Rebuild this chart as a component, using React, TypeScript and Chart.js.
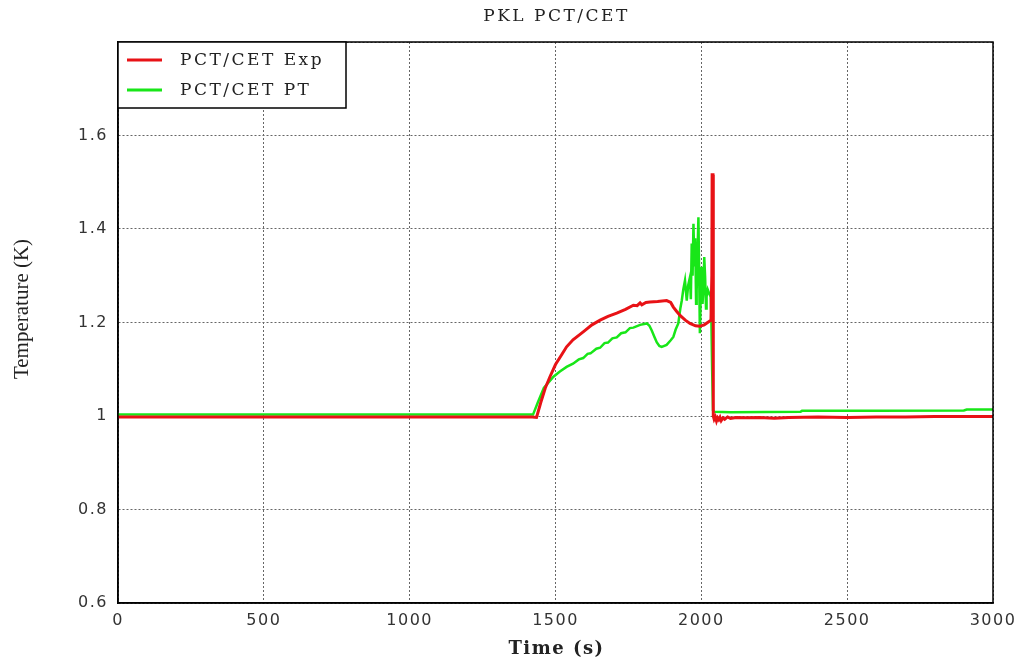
import React, { useEffect, useRef } from "react";
import { Chart, registerables } from "chart.js";

Chart.register(...registerables);

const chartTitle = "PKL PCT/CET";
const xTitle = "Time (s)";
const yTitle = "Temperature (K)";
const seriesNames = ["PCT/CET Exp", "PCT/CET PT"];
const seriesColors = ["rgb(232,18,22)", "rgb(24,230,24)"];

const expTime = [
  0, 100, 250, 400, 480, 520, 650, 800, 1000, 1150, 1300, 1420, 1435, 1450, 1465, 1481, 1500, 1520, 1538,
  1560, 1595, 1625, 1653, 1680, 1710, 1740, 1767, 1780, 1790, 1796, 1810, 1824, 1850, 1881, 1895, 1904, 1915, 1927,
  1945, 1961, 1980, 1995, 2010, 2024, 2033, 2036, 2037, 2040, 2041, 2044, 2048, 2052, 2056, 2060, 2064,
  2068, 2074, 2080, 2090, 2100, 2120, 2150, 2200, 2250, 2300, 2400, 2500, 2600, 2700, 2800, 2900, 3000,
];
const expTemp = [
  0.998, 0.998, 0.998, 0.998, 0.998, 0.998, 0.998, 0.998, 0.998, 0.998, 0.998, 0.998, 0.997, 1.03, 1.06,
  1.084, 1.11, 1.13, 1.148, 1.163, 1.18, 1.195, 1.205, 1.213, 1.22, 1.228, 1.237, 1.236, 1.242, 1.238, 1.243, 1.244,
  1.245, 1.247, 1.243, 1.233, 1.224, 1.215, 1.205, 1.198, 1.193, 1.192, 1.195, 1.201, 1.205, 1.3, 1.516,
  1.516, 1.0, 0.993, 0.998, 0.989, 0.996, 0.992, 0.997, 0.99, 0.996, 0.993, 0.998, 0.995, 0.997, 0.996,
  0.997, 0.995, 0.997, 0.998, 0.997, 0.998, 0.998, 0.999, 0.999, 0.999,
];

const ptTime = [
  0, 500, 1000, 1423, 1440, 1460, 1493, 1515, 1538, 1560, 1580, 1595, 1610, 1620, 1640, 1653, 1668, 1680,
  1695, 1710, 1725, 1740, 1755, 1767, 1790, 1813, 1822, 1830, 1840, 1847, 1856, 1864, 1881, 1895, 1904,
  1912, 1921, 1928, 1933, 1938, 1944, 1950, 1955, 1961, 1964, 1967, 1970, 1973, 1976, 1979, 1982, 1984,
  1987, 1990, 1993, 1995, 1998, 2001, 2004, 2007, 2010, 2013, 2016, 2018, 2022, 2027, 2032, 2034, 2037,
  2040, 2045, 2100, 2340, 2345, 2600, 2900, 2910, 3000,
];
const ptTemp = [
  1.003, 1.003, 1.003, 1.003, 1.03, 1.06, 1.084, 1.095, 1.105, 1.112, 1.121, 1.124, 1.133, 1.134, 1.144,
  1.146, 1.156, 1.157, 1.166, 1.168, 1.177, 1.179, 1.188, 1.189, 1.195, 1.198, 1.193, 1.183, 1.168, 1.158,
  1.15, 1.148, 1.152, 1.162, 1.169, 1.185, 1.198, 1.23, 1.247, 1.27, 1.29, 1.247, 1.28, 1.297, 1.25, 1.369,
  1.3, 1.411, 1.32, 1.38, 1.24, 1.269, 1.35, 1.425, 1.28, 1.177, 1.26, 1.319, 1.24, 1.269, 1.34, 1.297,
  1.23, 1.255, 1.27, 1.262, 1.255, 1.22, 1.1, 1.012, 1.009, 1.008, 1.009, 1.011, 1.011, 1.012, 1.014, 1.014,
];

const xTicks = { min: 0, max: 3000, step: 500 };
const yTicks = { min: 0.6, max: 1.8, step: 0.2 };

const toPoints = (xs: number[], ys: number[]) => xs.map((x, i) => ({ x, y: ys[i] }));

const decorPlugin = {
  id: "decor",
  beforeDraw(chart: any) {
    chart.ctx.letterSpacing = "1.5px";
  },
  afterDatasetsDraw(chart: any) {
    const { ctx, chartArea: a } = chart;
    ctx.save();
    ctx.letterSpacing = "0px";
    ctx.strokeStyle = "#000";
    ctx.lineWidth = 1.5;
    ctx.strokeRect(a.left, a.top, a.right - a.left, a.bottom - a.top);
    const lw = 228, lh = 66;
    ctx.fillStyle = "#fff";
    ctx.fillRect(a.left, a.top, lw, lh);
    ctx.strokeRect(a.left, a.top, lw, lh);
    ctx.font = '17px "DejaVu Serif"';
    ctx.letterSpacing = "2.5px";
    ctx.textBaseline = "middle";
    ctx.textAlign = "left";
    seriesNames.forEach((name, i) => {
      const yy = a.top + 18 + i * 30;
      ctx.strokeStyle = seriesColors[i];
      ctx.lineWidth = 3;
      ctx.beginPath();
      ctx.moveTo(a.left + 9, yy);
      ctx.lineTo(a.left + 44, yy);
      ctx.stroke();
      ctx.fillStyle = "#222";
      ctx.fillText(name, a.left + 62, yy + 1);
    });
    ctx.restore();
  },
  afterDraw(chart: any) {
    const { ctx, chartArea: a } = chart;
    ctx.save();
    ctx.fillStyle = "#222";
    ctx.textAlign = "center";
    ctx.textBaseline = "middle";
    ctx.font = '17px "DejaVu Serif"';
    ctx.letterSpacing = "2.5px";
    ctx.fillText(chartTitle, (a.left + a.right) / 2 + 1, 17);
    ctx.font = 'bold 18px "DejaVu Serif"';
    ctx.letterSpacing = "1.5px";
    ctx.fillText(xTitle, (a.left + a.right) / 2 + 1, 649);
    ctx.letterSpacing = "0px";
    ctx.translate(22, 309);
    ctx.rotate(-Math.PI / 2);
    ctx.font = '21px "Liberation Serif"';
    ctx.fillText(yTitle, 0, 0);
    ctx.restore();
    chart.ctx.letterSpacing = "0px";
  },
};

export default function App() {
  const ref = useRef<HTMLCanvasElement>(null);
  useEffect(() => {
    document.body.style.margin = "0";
    const chart = new Chart(ref.current!, {
      type: "line",
      data: {
        datasets: [
          {
            label: seriesNames[0],
            data: toPoints(expTime, expTemp),
            borderColor: seriesColors[0],
            borderWidth: 3,
            pointRadius: 0,
            tension: 0,
          },
          {
            label: seriesNames[1],
            data: toPoints(ptTime, ptTemp),
            borderColor: seriesColors[1],
            borderWidth: 2.5,
            pointRadius: 0,
            tension: 0,
          },
        ],
      },
      options: {
        responsive: false,
        animation: false,
        layout: { padding: { top: 42, right: 31, left: 0, bottom: 0 } },
        plugins: { legend: { display: false }, title: { display: false }, tooltip: { enabled: false } },
        scales: {
          x: {
            type: "linear",
            min: xTicks.min,
            max: xTicks.max,
            afterFit: (s: any) => {
              s.height = 61;
            },
            ticks: {
              stepSize: xTicks.step,
              padding: 8,
              color: "#333",
              font: { family: "DejaVu Sans", size: 16 },
              maxRotation: 0,
              callback: (v: any) => String(v),
            },
            grid: { color: "#666", lineWidth: 1, drawTicks: false },
            border: { color: "#000", width: 1.5, dash: [2, 2] },
          },
          y: {
            type: "linear",
            min: yTicks.min,
            max: yTicks.max,
            afterFit: (s: any) => {
              s.width = 118;
            },
            ticks: {
              stepSize: yTicks.step,
              padding: 10,
              color: "#333",
              font: { family: "DejaVu Sans", size: 16 },
              callback: (v: any) => (Math.abs(v - yTicks.max) < 1e-6 ? "" : String(+Number(v).toFixed(1))),
            },
            grid: { color: "#666", lineWidth: 1, drawTicks: false },
            border: { color: "#000", width: 1.5, dash: [2, 2] },
          },
        },
      },
      plugins: [decorPlugin],
    });
    return () => chart.destroy();
  }, []);
  return (
    <div style={{ width: 1024, height: 664 }}>
      <canvas ref={ref} width={1024} height={664} style={{ display: "block", background: "#fff" }} />
    </div>
  );
}
